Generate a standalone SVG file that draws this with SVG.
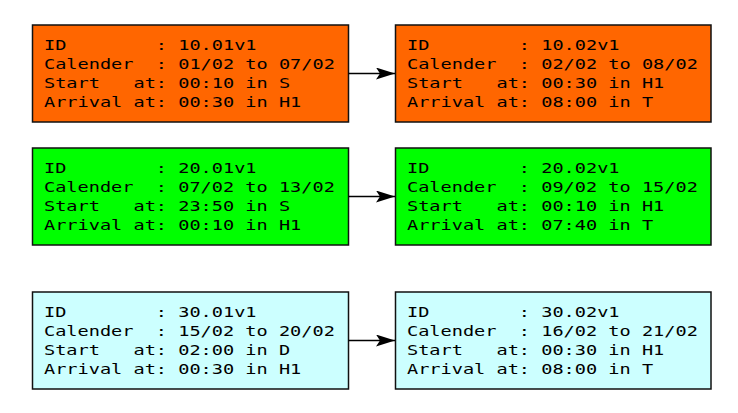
<svg xmlns="http://www.w3.org/2000/svg" width="738" height="413" viewBox="0 0 738 413">
<style>
.box{stroke:#111;stroke-width:1.5}
.o{fill:#ff6600}.g{fill:#00ff00}.c{fill:#ccffff}
text{font-family:"DejaVu Sans Mono","Liberation Mono",monospace;font-size:14.5px;fill:#000;white-space:pre}
.conn{stroke:#000;stroke-width:1.5;fill:none}
</style>
<defs>
<marker id="ah" markerUnits="userSpaceOnUse" markerWidth="20" markerHeight="14" refX="19" refY="6" orient="auto">
<path d="M0,0 L19,6 L0,12 L4,6 Z" fill="#000"/>
</marker>
</defs>
<rect width="738" height="413" fill="#fff"/>
<g id="n1">
<rect class="box o" x="32.5" y="25" width="316" height="97"/>
<g transform="matrix(1.283,0,0,1,44,0)">
<text x="0" y="50.5" xml:space="preserve">ID        : 10.01v1</text>
<text x="0" y="69.5" xml:space="preserve">Calender  : 01/02 to 07/02</text>
<text x="0" y="88.5" xml:space="preserve">Start   at: 00:10 in S</text>
<text x="0" y="107.5" xml:space="preserve">Arrival at: 00:30 in H1</text>
</g>
</g>
<g id="n2">
<rect class="box o" x="395.5" y="25" width="315.5" height="97"/>
<g transform="matrix(1.283,0,0,1,407,0)">
<text x="0" y="50.5" xml:space="preserve">ID        : 10.02v1</text>
<text x="0" y="69.5" xml:space="preserve">Calender  : 02/02 to 08/02</text>
<text x="0" y="88.5" xml:space="preserve">Start   at: 00:30 in H1</text>
<text x="0" y="107.5" xml:space="preserve">Arrival at: 08:00 in T</text>
</g>
</g>
<g id="n3">
<rect class="box g" x="32.5" y="148" width="316" height="97"/>
<g transform="matrix(1.283,0,0,1,44,0)">
<text x="0" y="173.5" xml:space="preserve">ID        : 20.01v1</text>
<text x="0" y="192.5" xml:space="preserve">Calender  : 07/02 to 13/02</text>
<text x="0" y="211.5" xml:space="preserve">Start   at: 23:50 in S</text>
<text x="0" y="230.5" xml:space="preserve">Arrival at: 00:10 in H1</text>
</g>
</g>
<g id="n4">
<rect class="box g" x="395.5" y="148" width="315.5" height="97"/>
<g transform="matrix(1.283,0,0,1,407,0)">
<text x="0" y="173.5" xml:space="preserve">ID        : 20.02v1</text>
<text x="0" y="192.5" xml:space="preserve">Calender  : 09/02 to 15/02</text>
<text x="0" y="211.5" xml:space="preserve">Start   at: 00:10 in H1</text>
<text x="0" y="230.5" xml:space="preserve">Arrival at: 07:40 in T</text>
</g>
</g>
<g id="n5">
<rect class="box c" x="32.5" y="292" width="316" height="97"/>
<g transform="matrix(1.283,0,0,1,44,0)">
<text x="0" y="317.5" xml:space="preserve">ID        : 30.01v1</text>
<text x="0" y="336.5" xml:space="preserve">Calender  : 15/02 to 20/02</text>
<text x="0" y="355.5" xml:space="preserve">Start   at: 02:00 in D</text>
<text x="0" y="374.5" xml:space="preserve">Arrival at: 00:30 in H1</text>
</g>
</g>
<g id="n6">
<rect class="box c" x="395.5" y="292" width="315.5" height="97"/>
<g transform="matrix(1.283,0,0,1,407,0)">
<text x="0" y="317.5" xml:space="preserve">ID        : 30.02v1</text>
<text x="0" y="336.5" xml:space="preserve">Calender  : 16/02 to 21/02</text>
<text x="0" y="355.5" xml:space="preserve">Start   at: 00:30 in H1</text>
<text x="0" y="374.5" xml:space="preserve">Arrival at: 08:00 in T</text>
</g>
</g>
<g id="connectors">
<line class="conn" x1="348.5" y1="73.5" x2="395" y2="73.5" marker-end="url(#ah)"/>
<line class="conn" x1="348.5" y1="196.5" x2="395" y2="196.5" marker-end="url(#ah)"/>
<line class="conn" x1="348.5" y1="340.5" x2="395" y2="340.5" marker-end="url(#ah)"/>
</g>
</svg>
